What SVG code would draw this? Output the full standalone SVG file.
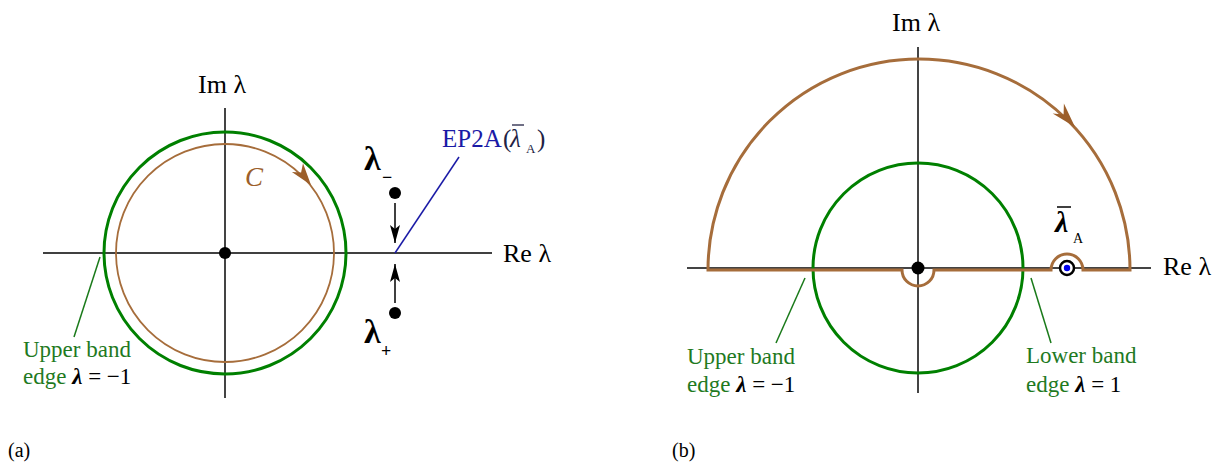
<svg xmlns="http://www.w3.org/2000/svg" width="1223" height="464" viewBox="0 0 1223 464" font-family="'Liberation Serif', 'DejaVu Serif', serif">
<style>
text{font-family:"Liberation Serif","Times New Roman","DejaVu Serif",serif;}
.ax{font-size:26px;fill:#000;}
.lab{font-size:23px;fill:#1f7a1f;}
.blk{fill:#000;}
.lam{font-style:italic;font-weight:bold;}
.axk{stroke:#000;stroke-width:1.5;fill:none;}
.axg{stroke:#444;stroke-width:2;fill:none;}
.grn{stroke:#008000;stroke-width:3;fill:none;}
.brn{stroke:#a66d3b;fill:none;}
.lead{stroke:#1a7a1a;stroke-width:1.5;fill:none;}
.arr{stroke:#000;stroke-width:1.5;fill:none;}
.ah{fill:#9c5f2b;}
.dot{fill:#000;}
.pl{font-size:20px;fill:#000;}
.big{font-size:34px;fill:#000;font-weight:bold;}
.sub{font-size:18px;fill:#000;font-weight:bold;}
</style>
<defs>
<marker id="blkArrow" viewBox="0 0 18 10" refX="18" refY="5" markerWidth="18" markerHeight="10" markerUnits="userSpaceOnUse" orient="auto">
<path d="M0,0 L18,5 L0,10 L4,5 Z" fill="#000"/>
</marker>
</defs>

<!-- Panel (a) -->
<g id="axes-a">
<line class="axk" x1="43" y1="253" x2="492" y2="253"/>
<line class="axg" x1="225" y1="108" x2="225" y2="398"/>
<text class="ax" x="198" y="93">Im λ</text>
<text class="ax" x="503" y="262">Re λ</text>
</g>
<g id="band-circle-a">
<circle class="grn" cx="225" cy="253" r="121"/>
</g>
<g id="contour-a">
<circle class="brn" stroke-width="1.8" cx="225" cy="253" r="109"/>
<path class="ah" d="M311,185 L291.9,172 L301.1,172.4 L303,163.3 Z"/>
<text x="245" y="186" font-size="27" font-style="italic" fill="#9c5f2b">C</text>
</g>
<g id="origin-a">
<circle class="dot" cx="225" cy="253" r="6"/>
</g>
<g id="lambda-minus">
<circle class="dot" cx="395" cy="193" r="6"/>
<text class="big" x="364" y="170">λ</text>
<text class="sub" x="382" y="183">−</text>
</g>
<g id="lambda-plus">
<circle class="dot" cx="395" cy="313" r="6"/>
<text class="big" x="364" y="343">λ</text>
<text class="sub" x="381" y="357">+</text>
</g>
<g id="ep2a-label">
<text x="442" y="147" font-size="25" fill="#1a1aa6">EP2A</text>
<text x="503" y="147" font-size="25" fill="#222244">(</text>
<text x="510" y="147" font-size="25" font-style="italic" fill="#222244">λ</text>
<line x1="512" y1="125" x2="524" y2="125" stroke="#222244" stroke-width="1.3"/>
<text x="526" y="153" font-size="13" fill="#222244">A</text>
<text x="537" y="147" font-size="25" fill="#222244">)</text>
</g>
<g id="upper-band-label-a">
<text class="lab" x="23" y="357">Upper band</text>
<text class="lab" x="23" y="384">edge <tspan class="blk lam">λ</tspan><tspan class="blk"> = −1</tspan></text>
</g>
<g id="connectors-a">
<line class="arr" x1="395" y1="203" x2="395" y2="243" marker-end="url(#blkArrow)"/>
<line class="arr" x1="395" y1="303" x2="395" y2="264" marker-end="url(#blkArrow)"/>
<line x1="395" y1="253" x2="459" y2="157" stroke="#1a1aa6" stroke-width="1.5"/>
<line class="lead" x1="100" y1="257" x2="74" y2="337"/>
</g>
<text class="pl" x="8" y="457">(a)</text>

<!-- Panel (b) -->
<g id="axes-b">
<line class="axg" x1="687" y1="268" x2="1151" y2="268"/>
<line class="axg" x1="918" y1="47" x2="918" y2="393"/>
<text class="ax" x="892" y="31">Im λ</text>
<text class="ax" x="1163" y="275">Re λ</text>
</g>
<g id="band-circle-b">
<circle class="grn" cx="918" cy="268" r="105"/>
</g>
<g id="contour-b">
<path class="brn" stroke-width="3" d="M708,270 A210,210 0 0 1 1130,270 L1083,270 A16,16 0 0 0 1051,270 L934,270 A16,16 0 0 1 902,270 Z"/>
<path class="ah" d="M1075,127 L1052.7,113.4 L1063.6,114.4 L1063.9,103.4 Z"/>
</g>
<g id="origin-b">
<circle class="dot" cx="918" cy="268" r="6.5"/>
</g>
<g id="lambda-A">
<circle cx="1067" cy="268" r="7" fill="#fff" stroke="#000" stroke-width="2.5"/>
<circle cx="1067" cy="268" r="3.2" fill="#0000ee"/>
<text x="1055" y="232" font-size="30" font-style="italic" font-weight="bold" fill="#000">λ</text>
<line x1="1057" y1="207" x2="1071" y2="207" stroke="#000" stroke-width="1.5"/>
<text x="1073" y="243" font-size="14" fill="#000">A</text>
</g>
<g id="upper-band-label-b">
<text class="lab" x="687" y="364">Upper band</text>
<text class="lab" x="687" y="392">edge <tspan class="blk lam">λ</tspan><tspan class="blk"> = −1</tspan></text>
</g>
<g id="lower-band-label-b">
<text class="lab" x="1026" y="363">Lower band</text>
<text class="lab" x="1026" y="392">edge <tspan class="blk lam">λ</tspan><tspan class="blk"> = 1</tspan></text>
</g>
<g id="connectors-b">
<line class="lead" x1="805" y1="278" x2="776" y2="343"/>
<line class="lead" x1="1031" y1="278" x2="1051" y2="343"/>
</g>
<text class="pl" x="672" y="457">(b)</text>
</svg>
